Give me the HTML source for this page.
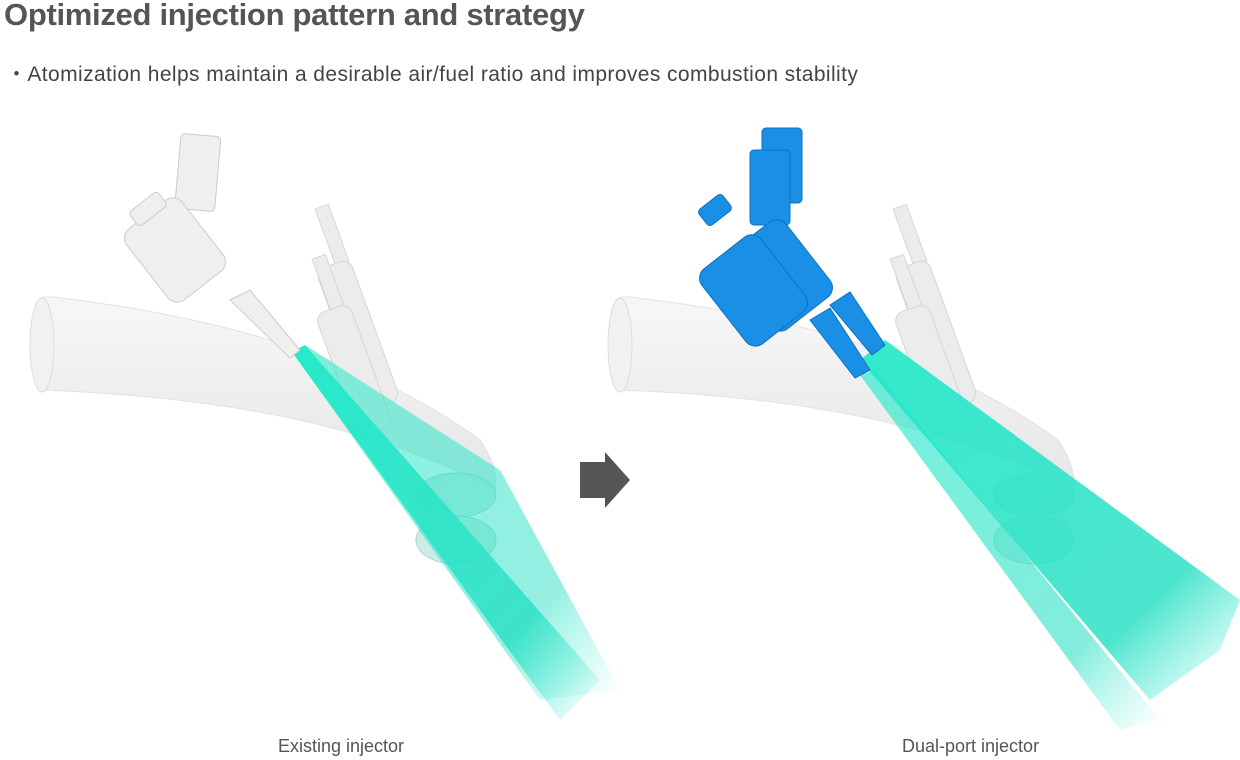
<!DOCTYPE html>
<html><head><meta charset="utf-8"><style>
html,body{margin:0;padding:0;background:#fff;width:1240px;height:760px;overflow:hidden;font-family:"Liberation Sans",sans-serif}
.t{position:absolute;left:4px;top:-3px;font-size:31px;font-weight:bold;color:#555;letter-spacing:-0.3px}
.s{position:absolute;left:6px;top:58px;font-size:21px;color:#444;letter-spacing:0.4px}
.l{position:absolute;top:736px;font-size:18px;color:#555}
</style></head><body>
<svg width="1240" height="760" style="position:absolute;left:0;top:0">
<defs>
<linearGradient id="sp" x1="0" y1="0" x2="1" y2="1"><stop offset="0" stop-color="#1de9c8" stop-opacity=".9"/><stop offset=".75" stop-color="#2fe0c5" stop-opacity=".85"/><stop offset="1" stop-color="#5ef0d8" stop-opacity="0"/></linearGradient>
<linearGradient id="pipe" x1="0" y1="0" x2="0" y2="1"><stop offset="0" stop-color="#f7f7f7"/><stop offset="1" stop-color="#e6e6e6"/></linearGradient>
<g id="base">
<path d="M40 300 Q40 295 60 298 Q330 330 480 440 Q500 470 495 490 Q330 400 40 390 Z" fill="url(#pipe)" stroke="#e2e2e2"/>
<ellipse cx="42" cy="345" rx="12" ry="47" fill="#f1f1f1" stroke="#ddd"/>
<g fill="#ececec" stroke="#d6d6d6">
<rect x="325" y="205" width="14" height="60" transform="rotate(-20 332 235)"/>
<rect x="340" y="260" width="36" height="150" rx="10" transform="rotate(-20 358 335)"/>
<rect x="322" y="255" width="14" height="60" transform="rotate(-20 329 285)"/>
<rect x="336" y="305" width="36" height="130" rx="10" transform="rotate(-20 354 370)"/>
</g>
<ellipse cx="456" cy="495" rx="40" ry="22" fill="#bfe9df" opacity=".8" stroke="#9cc"/>
<ellipse cx="456" cy="540" rx="40" ry="24" fill="#bfe9df" opacity=".8" stroke="#9cc"/>
</g>
</defs>
<use href="#base"/>
<polygon points="292,352 305,345 600,680 560,720" fill="url(#sp)"/>
<polygon points="292,352 305,345 500,470 620,690 540,700" fill="url(#sp)" opacity=".6"/>
<g fill="#efefef" stroke="#ccc">
<rect x="178" y="135" width="40" height="75" rx="4" transform="rotate(5 198 170)"/>
<rect x="140" y="205" width="70" height="90" rx="12" transform="rotate(-38 175 250)"/>
<rect x="130" y="200" width="36" height="18" rx="4" transform="rotate(-38 148 209)"/>
<polygon points="230,300 250,290 300,350 290,358" />
</g>
<polygon points="580,462 605,462 605,452 630,480 605,508 605,498 580,498" fill="#555"/>
<g transform="translate(578,0)"><use href="#base"/></g>
<polygon points="860,360 885,340 1240,600 1220,650 1150,700" fill="url(#sp)"/>
<polygon points="860,375 875,370 1160,720 1120,730" fill="url(#sp)" opacity=".7"/>
<g fill="#1a8fe6" stroke="#0f72c0">
<rect x="762" y="128" width="40" height="75" rx="4"/>
<rect x="750" y="150" width="40" height="75" rx="4"/>
<rect x="740" y="230" width="75" height="95" rx="12" transform="rotate(-38 775 275)"/>
<rect x="715" y="245" width="75" height="95" rx="12" transform="rotate(-38 750 290)"/>
<rect x="700" y="200" width="30" height="20" rx="4" transform="rotate(-38 715 210)"/>
<polygon points="830,305 850,292 885,345 872,355"/>
<polygon points="810,320 830,308 870,370 855,378"/>
</g>
</svg>
<div class="t">Optimized injection pattern and strategy</div>
<div class="s">・Atomization helps maintain a desirable air/fuel ratio and improves combustion stability</div>
<div class="l" style="left:278px">Existing injector</div>
<div class="l" style="left:902px">Dual-port injector</div>
</body></html>
